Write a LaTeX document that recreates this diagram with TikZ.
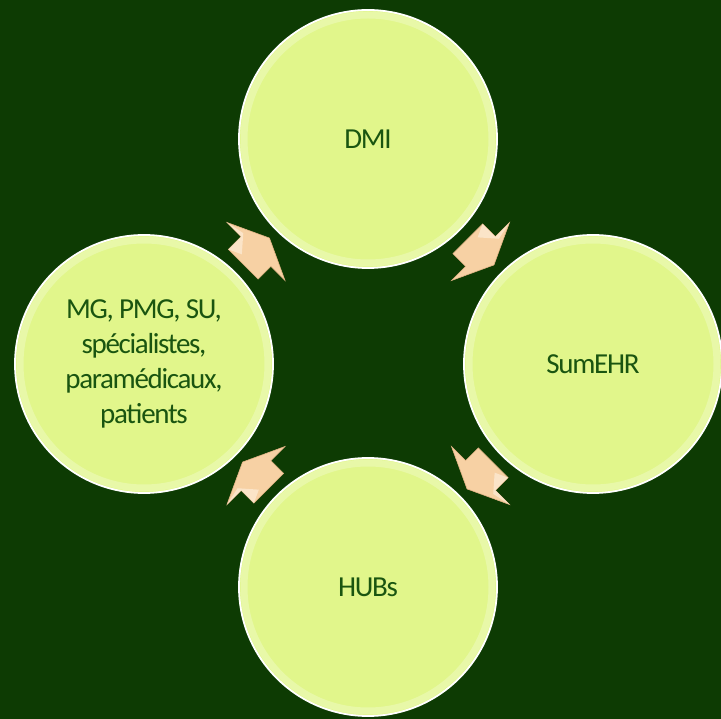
\documentclass[tikz,border=0pt]{standalone}
\usepackage{fontspec}
\setmainfont{Carlito}[LetterSpace=-4.5]
\definecolor{bg}{HTML}{0D3B03}
\definecolor{bubblefill}{HTML}{E1F68B}
\definecolor{bubbletext}{HTML}{1A5510}
\definecolor{peach}{HTML}{F7D1A4}
\definecolor{peachlight}{HTML}{FCE9D2}
\definecolor{peachdark}{HTML}{E3B486}
\tikzset{
  bubble/.style={circle, minimum size=258pt, inner sep=0pt, fill=bubblefill,
    draw=white, line width=1.8pt, text=bubbletext, align=center,
    font=\fontsize{29}{35}\selectfont},
  glowring/.style={draw=white, line width=7pt, opacity=0.25},
  cyclearrow/.style={fill=peach, draw=peachdark, line width=0.6pt, line join=miter},
  arrowface/.style={fill=peachlight, opacity=0.8}
}
\newcommand{\cycarrow}[2]{%
  \begin{scope}[shift={(#1)}, rotate=#2]
    \path[cyclearrow] (-18,21) -- (0,21) -- (0,41) -- (19,0) -- (0,-41) -- (0,-21) -- (-18,-21) -- cycle;
    \path[arrowface] (-18,21) -- (0,21) -- (0,41) -- (4,22) -- (-12,8) -- cycle;
  \end{scope}}
\begin{document}
\begin{tikzpicture}[x=1pt, y=1pt]
  \fill[bg] (0,0) rectangle (721,-719);
  \useasboundingbox (0,0) rectangle (721,-719);
  \node[bubble] (dmi) at (368,-139) {DMI};
  \node[bubble] (sum) at (593,-364) {SumEHR};
  \node[bubble] (hubs) at (368,-587) {HUBs};
  \node[bubble] (mg) at (144,-364) {MG, PMG, SU,\\spécialistes,\\paramédicaux,\\patients};
  \foreach \n in {dmi,sum,hubs,mg} {
    \path[glowring] (\n.center) circle (124pt);
  }
  \path (dmi) -- (sum) coordinate[pos=0.5] (a1);
  \path (sum) -- (hubs) coordinate[pos=0.5] (a2);
  \path (hubs) -- (mg) coordinate[pos=0.5] (a3);
  \path (mg) -- (dmi) coordinate[pos=0.5] (a4);
  \cycarrow{a1}{-45}
  \cycarrow{a2}{-135}
  \cycarrow{a3}{135}
  \cycarrow{a4}{45}
\end{tikzpicture}
\end{document}
